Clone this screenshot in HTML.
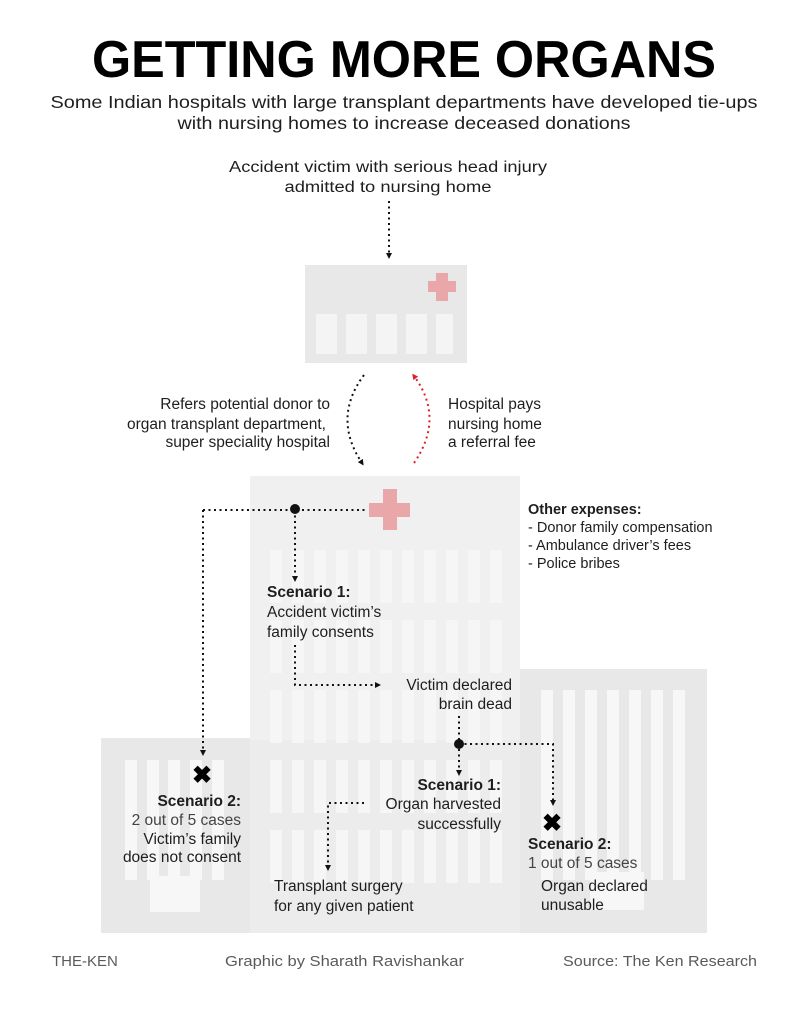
<!DOCTYPE html>
<html><head><meta charset="utf-8"><style>
html,body{margin:0;padding:0;background:#fff;}
svg{display:block;}
text{font-family:"Liberation Sans",sans-serif;fill:#1e1e1e;font-size:15.5px;}
.b{font-weight:bold;}
.f{fill:#5a5a5a;font-size:15px;}
</style></head><body>
<svg width="808" height="1015" viewBox="0 0 808 1015" xmlns="http://www.w3.org/2000/svg">
<defs>
<marker id="ah" markerWidth="6" markerHeight="6" refX="3" refY="3" orient="auto" markerUnits="userSpaceOnUse"><path d="M0,0 L6,3 L0,6 z" fill="#111"/></marker>
<marker id="ahr" markerWidth="6" markerHeight="6" refX="3" refY="3" orient="auto" markerUnits="userSpaceOnUse"><path d="M0,0 L6,3 L0,6 z" fill="#e0202a"/></marker>
</defs>

<text x="404" y="77" text-anchor="middle" class="b" style="font-size:52px;fill:#000" textLength="624" lengthAdjust="spacingAndGlyphs">GETTING MORE ORGANS</text>
<text x="404" y="108" text-anchor="middle" style="font-size:17.5px" textLength="707" lengthAdjust="spacingAndGlyphs">Some Indian hospitals with large transplant departments have developed tie-ups</text>
<text x="404" y="129" text-anchor="middle" style="font-size:17.5px" textLength="453" lengthAdjust="spacingAndGlyphs">with nursing homes to increase deceased donations</text>

<text x="388" y="172" text-anchor="middle" textLength="318" lengthAdjust="spacingAndGlyphs">Accident victim with serious head injury</text>
<text x="388" y="192" text-anchor="middle" textLength="207" lengthAdjust="spacingAndGlyphs">admitted to nursing home</text>
<line x1="389" y1="201" x2="389" y2="256" stroke="#111" stroke-width="2" stroke-dasharray="2,3.5" marker-end="url(#ah)"/>

<!-- nursing home -->
<rect x="305" y="265" width="162" height="98" fill="#e8e8e8"/>
<rect x="428" y="281" width="28" height="11" fill="#e9a7a9"/>
<rect x="436" y="273" width="12" height="28" fill="#e9a7a9"/>
<g fill="#f4f4f4">
<rect x="316" y="314" width="21" height="40"/><rect x="346" y="314" width="21" height="40"/><rect x="376" y="314" width="21" height="40"/><rect x="406" y="314" width="21" height="40"/><rect x="436" y="314" width="17" height="40"/>
</g>

<path d="M364,375 Q332,418 362,463" fill="none" stroke="#111" stroke-width="2" stroke-dasharray="2,3.5" marker-end="url(#ah)"/>
<path d="M414,463 Q445,418 414,376" fill="none" stroke="#e0202a" stroke-width="2" stroke-dasharray="2,3.5" marker-end="url(#ahr)"/>

<text x="330" y="409" text-anchor="end">Refers potential donor to</text>
<text x="326" y="429" text-anchor="end">organ transplant department,</text>
<text x="330" y="447" text-anchor="end">super speciality hospital</text>
<text x="448" y="409">Hospital pays</text>
<text x="448" y="429">nursing home</text>
<text x="448" y="447">a referral fee</text>

<!-- buildings -->
<rect x="101" y="738" width="150" height="195" fill="#e8e8e8"/>
<rect x="520" y="669" width="187" height="264" fill="#e8e8e8"/>
<rect x="250" y="476" width="270" height="457" fill="#f0f0f0"/>
<rect x="250" y="740" width="270" height="193" fill="#ececec"/>
<g fill="#f7f7f7">
<rect x="125" y="760" width="12" height="120"/><rect x="147" y="760" width="12" height="120"/><rect x="168" y="760" width="12" height="120"/><rect x="190" y="760" width="12" height="120"/><rect x="212" y="760" width="12" height="120"/>
<rect x="150" y="876" width="50" height="36"/>
<rect x="541" y="690" width="12" height="190"/><rect x="563" y="690" width="12" height="190"/><rect x="585" y="690" width="12" height="190"/><rect x="607" y="690" width="12" height="190"/><rect x="629" y="690" width="12" height="190"/><rect x="651" y="690" width="12" height="190"/><rect x="673" y="690" width="12" height="190"/>
<rect x="590" y="872" width="54" height="38"/>
</g>
<g fill="#f6f6f6" id="mw">
<rect x="270" y="550" width="12" height="53"/><rect x="292" y="550" width="12" height="53"/><rect x="314" y="550" width="12" height="53"/><rect x="336" y="550" width="12" height="53"/><rect x="358" y="550" width="12" height="53"/><rect x="380" y="550" width="12" height="53"/><rect x="402" y="550" width="12" height="53"/><rect x="424" y="550" width="12" height="53"/><rect x="446" y="550" width="12" height="53"/><rect x="468" y="550" width="12" height="53"/><rect x="490" y="550" width="12" height="53"/>
</g>
<use href="#mw" y="70"/><use href="#mw" y="140"/><use href="#mw" y="210"/><use href="#mw" y="280"/>
<rect x="369" y="503" width="41" height="14" fill="#e9a7a9"/>
<rect x="383" y="489" width="14" height="41" fill="#e9a7a9"/>

<!-- connectors -->
<g fill="none" stroke="#111" stroke-width="2" stroke-dasharray="2,3.5">
<line x1="203" y1="510" x2="365" y2="510"/>
<line x1="203" y1="510" x2="203" y2="753" marker-end="url(#ah)"/>
<line x1="295" y1="510" x2="295" y2="579" marker-end="url(#ah)"/>
<polyline points="295,645 295,685 378,685" marker-end="url(#ah)"/>
<line x1="459" y1="716" x2="459" y2="773" marker-end="url(#ah)"/>
<polyline points="459,744 553,744 553,803" marker-end="url(#ah)"/>
<polyline points="364,803 328,803 328,868" marker-end="url(#ah)"/>
</g>
<circle cx="295" cy="509" r="5" fill="#111"/>
<circle cx="459" cy="744" r="5" fill="#111"/>

<text x="528" y="514" class="b" style="font-size:14.5px">Other expenses:</text>
<text x="528" y="532" style="font-size:14.5px">- Donor family compensation</text>
<text x="528" y="550" style="font-size:14.5px">- Ambulance driver’s fees</text>
<text x="528" y="568" style="font-size:14.5px">- Police bribes</text>

<text x="267" y="597" class="b">Scenario 1:</text>
<text x="267" y="617">Accident victim’s</text>
<text x="267" y="637">family consents</text>

<text x="512" y="690" text-anchor="end">Victim declared</text>
<text x="512" y="709" text-anchor="end">brain dead</text>

<text x="501" y="790" text-anchor="end" class="b">Scenario 1:</text>
<text x="501" y="809" text-anchor="end">Organ harvested</text>
<text x="501" y="829" text-anchor="end">successfully</text>

<text x="274" y="891">Transplant surgery</text>
<text x="274" y="911">for any given patient</text>

<text x="202" y="783" text-anchor="middle" class="b" style="font-size:24px;fill:#000">✖</text>
<text x="241" y="806" text-anchor="end" class="b">Scenario 2:</text>
<text x="241" y="825" text-anchor="end" style="fill:#444">2 out of 5 cases</text>
<text x="241" y="844" text-anchor="end">Victim’s family</text>
<text x="241" y="862" text-anchor="end">does not consent</text>

<text x="552" y="831" text-anchor="middle" class="b" style="font-size:24px;fill:#000">✖</text>
<text x="528" y="849" class="b">Scenario 2:</text>
<text x="528" y="868" style="fill:#444">1 out of 5 cases</text>
<text x="541" y="891">Organ declared</text>
<text x="541" y="910">unusable</text>

<text x="52" y="966" class="f">THE-KEN</text>
<text x="225" y="966" class="f" textLength="239" lengthAdjust="spacingAndGlyphs">Graphic by Sharath Ravishankar</text>
<text x="563" y="966" class="f" textLength="194" lengthAdjust="spacingAndGlyphs">Source: The Ken Research</text>
</svg>
</body></html>
